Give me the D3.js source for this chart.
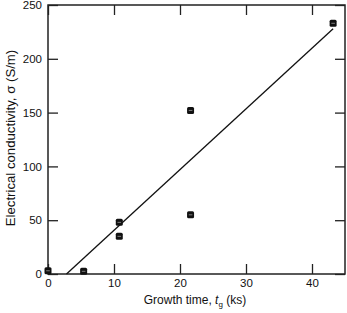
<!DOCTYPE html>
<html>
<head>
<meta charset="utf-8">
<script src="https://cdn.jsdelivr.net/npm/d3@7"></script>
<style>
	body { margin: 0; background: #fff; }
	text { font-family: "Liberation Sans", Arial, sans-serif; fill: #111; }
</style>
</head>
<body>
<svg id="chart" width="347" height="313"></svg>
<script>
// measured growth times (ks) and conductivities (S/m)
var growthTime = [0, 5.4, 10.8, 10.8, 21.6, 21.6, 43.2];
var conductivity = [3, 2.5, 48, 35, 152, 55, 233];
// linear fit, end points
var fitTime = [2.8, 43.2];
var fitConductivity = [0, 228];
var xTicks = [0, 10, 20, 30, 40];
var yTicks = [0, 50, 100, 150, 200, 250];

var margin = {left: 48, right: 2, top: 5, bottom: 39};
var width = 347 - margin.left - margin.right;
var height = 313 - margin.top - margin.bottom;
var tickLen = 10;

var svg = d3.select("#chart");
var g = svg.append("g").attr("transform", "translate(" + margin.left + "," + margin.top + ")");

var x = d3.scaleLinear().domain([0, 45]).range([0, width]);
var y = d3.scaleLinear().domain([0, 250]).range([height, 0]);

function styleAxis(sel, showLabels) {
	sel.select(".domain").remove();
	sel.selectAll(".tick line").attr("stroke", "#222").attr("stroke-width", 1.3);
	sel.selectAll(".tick text").attr("font-size", 11.5).attr("fill", "#111");
	if (!showLabels) sel.selectAll(".tick text").remove();
}

g.append("g").attr("transform", "translate(0," + height + ")")
	.call(d3.axisBottom(x).tickValues(xTicks).tickSize(-tickLen).tickPadding(5))
	.call(styleAxis, true);
g.append("g")
	.call(d3.axisTop(x).tickValues(xTicks).tickSize(-tickLen))
	.call(styleAxis, false);
g.append("g")
	.call(d3.axisLeft(y).tickValues(yTicks).tickSize(-tickLen).tickPadding(6))
	.call(styleAxis, true);
g.append("g").attr("transform", "translate(" + width + ",0)")
	.call(d3.axisRight(y).tickValues(yTicks).tickSize(-tickLen))
	.call(styleAxis, false);

// frame
g.append("rect")
	.attr("x", 0).attr("y", 0).attr("width", width).attr("height", height)
	.attr("fill", "none").attr("stroke", "#222").attr("stroke-width", 1.5);

// fit line
var fit = fitTime.map(function (t, i) { return [t, fitConductivity[i]]; });
g.append("path")
	.datum(fit)
	.attr("d", d3.line().x(function (d) { return x(d[0]); }).y(function (d) { return y(d[1]); }))
	.attr("fill", "none").attr("stroke", "#111").attr("stroke-width", 1.3);

// markers
var pts = growthTime.map(function (t, i) { return [t, conductivity[i]]; });
var m = g.selectAll("g.marker").data(pts).enter().append("g")
	.attr("class", "marker")
	.attr("transform", function (d) { return "translate(" + x(d[0]) + "," + y(d[1]) + ")"; });
m.append("rect")
	.attr("x", -3.5).attr("y", -3.5).attr("width", 7).attr("height", 7)
	.attr("rx", 1.5).attr("fill", "#111");
m.append("line")
	.attr("x1", -1.8).attr("x2", 1.8).attr("y1", 0).attr("y2", 0)
	.attr("stroke", "#999").attr("stroke-width", 0.8);

// axis titles
var xl = svg.append("text")
	.attr("x", 195).attr("y", 304)
	.attr("text-anchor", "middle").attr("font-size", 12);
xl.append("tspan").text("Growth time, ");
xl.append("tspan").attr("font-style", "italic").text("t");
xl.append("tspan").attr("font-size", 8).attr("dy", 2.5).text("g");
xl.append("tspan").attr("dy", -2.5).text(" (ks)");

svg.append("text")
	.attr("transform", "translate(15,138) rotate(-90)")
	.attr("text-anchor", "middle").attr("font-size", 13.2)
	.text("Electrical conductivity, σ (S/m)");
</script>
</body>
</html>
